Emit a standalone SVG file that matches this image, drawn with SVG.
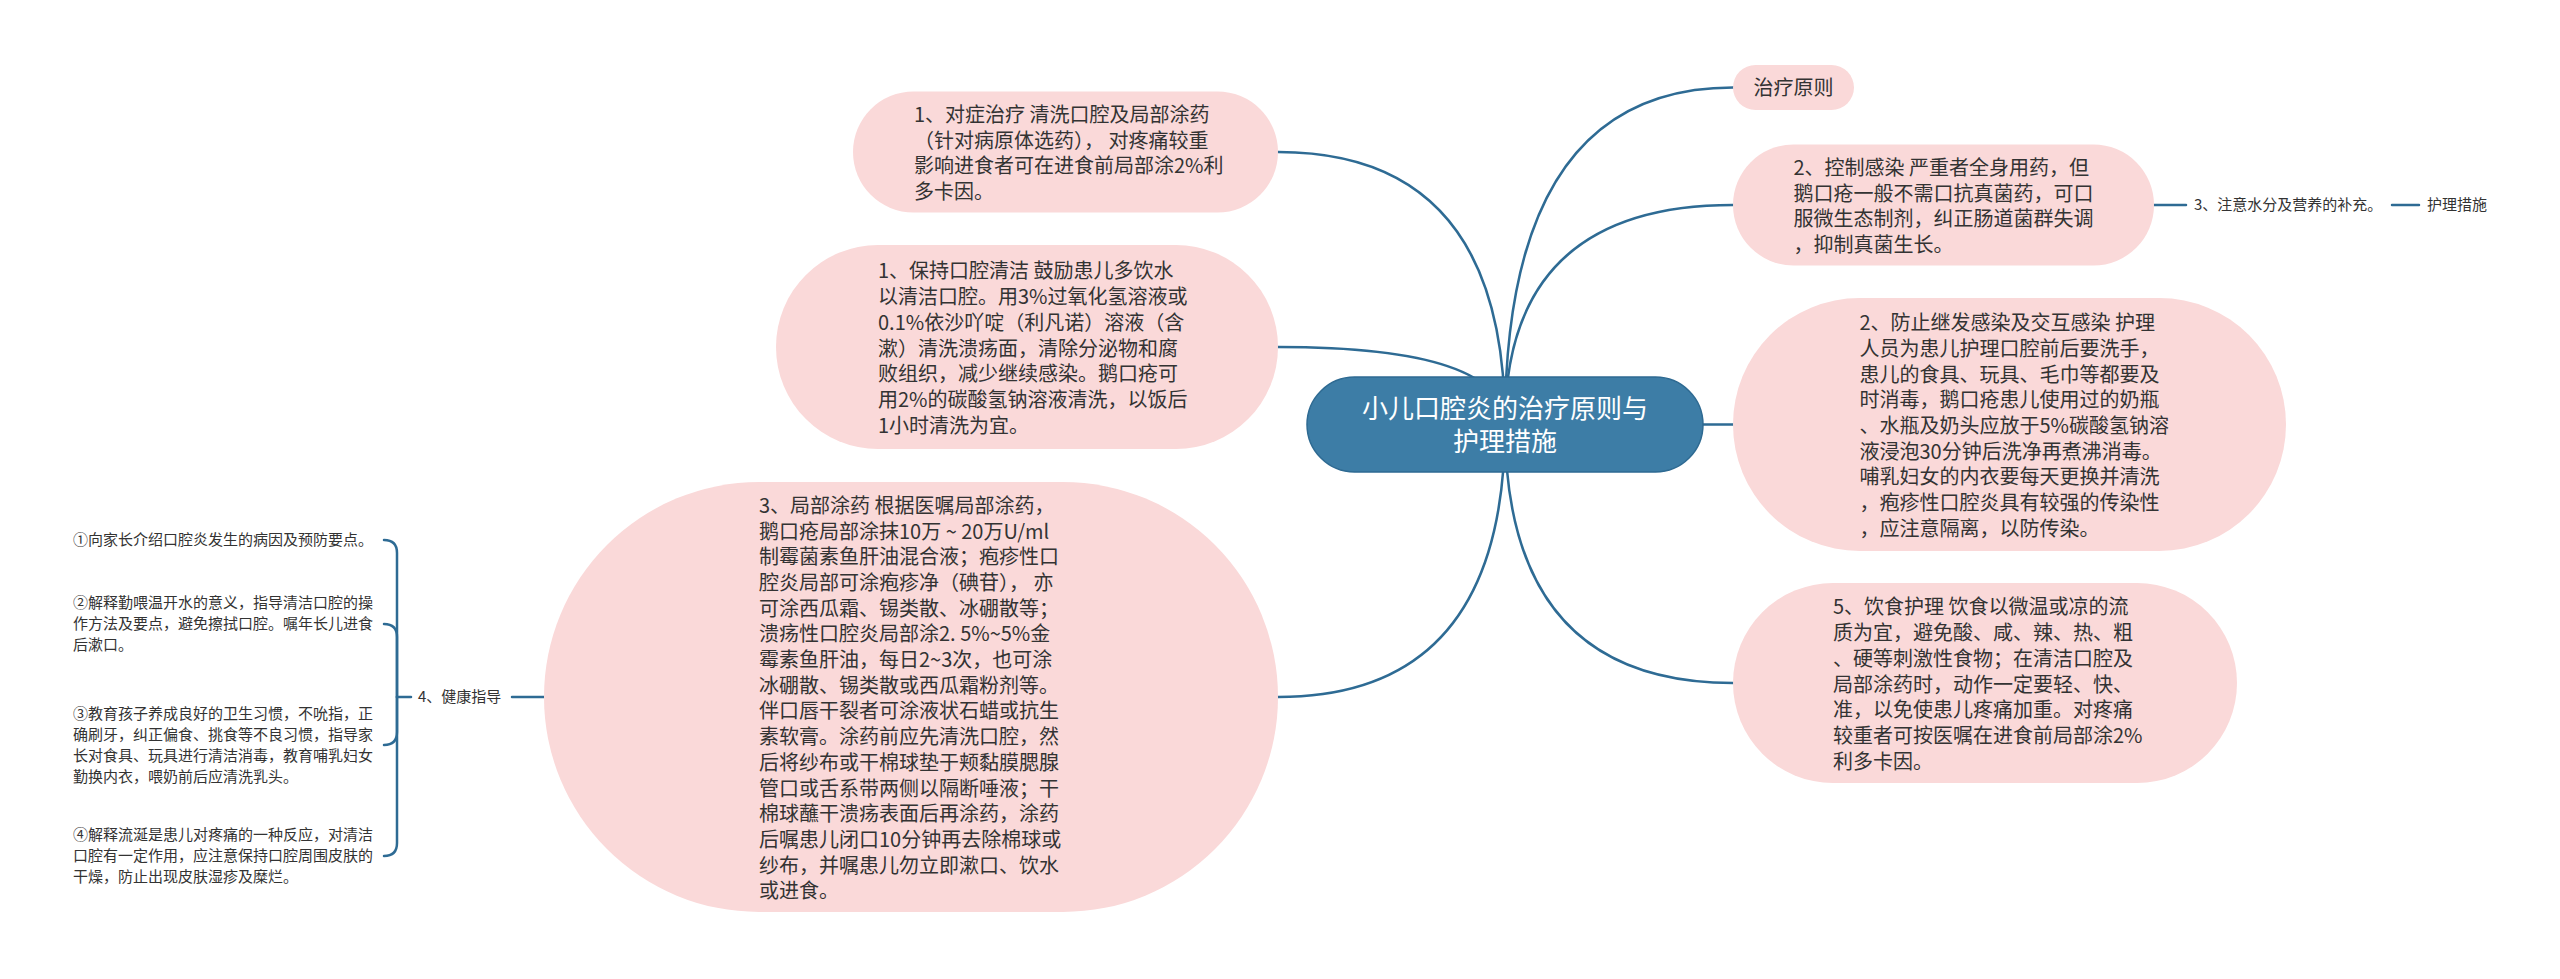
<svg xmlns="http://www.w3.org/2000/svg" width="2560" height="979" viewBox="0 0 2560 979">
<style>
text{font-family:"Noto Sans CJK SC","Noto Sans",sans-serif;fill:#333333;}
.t{font-size:20px;}
.s{font-size:15px;}
.pill{fill:#fad9d9;}
.root{fill:#3d7da6;stroke:#2e6a92;stroke-width:1.5;}
.rt{font-size:26px;fill:#ffffff;text-anchor:middle;}
.c{fill:none;stroke:#2e6b94;stroke-width:2.5;stroke-linecap:round;}
</style>
<rect width="2560" height="979" fill="#ffffff"/>
<g id="connectors">
<path class="c" d="M1505,424.5 Q1505,152 1278,152"/>
<path class="c" d="M1505,424.5 Q1505,347 1278,347"/>
<path class="c" d="M1505,424.5 Q1505,697 1278,697"/>
<path class="c" d="M1505,424.5 Q1505,87.5 1733,87.5"/>
<path class="c" d="M1505,424.5 Q1505,205 1733,205"/>
<path class="c" d="M1505,424.5 L1733,424.5"/>
<path class="c" d="M1505,424.5 Q1505,683 1733,683"/>
<path class="c" d="M2154,205 L2186,205"/>
<path class="c" d="M2392,205 L2419,205"/>
<path class="c" d="M544,697 L512,697"/>
<path class="c" d="M411,697 L397,697"/>
<path class="c" d="M397,697 L397,553 Q397,540 384,540"/>
<path class="c" d="M397,697 L397,637 Q397,624 384,624"/>
<path class="c" d="M397,697 L397,732 Q397,745 384,745"/>
<path class="c" d="M397,697 L397,843 Q397,856 384,856"/>
</g>
<g id="root">
<rect class="root" x="1307" y="377" width="396" height="95" rx="47.5"/>
<text class="rt" x="1505" y="418">小儿口腔炎的治疗原则与</text>
<text class="rt" x="1505" y="451">护理措施</text>
</g>
<g id="n-duizheng">
<rect class="pill" x="853" y="91.5" width="425" height="121" rx="60.5"/>
<text class="t" x="914"><tspan x="914" y="122">1、对症治疗 清洗口腔及局部涂药</tspan><tspan x="914" y="147.7">（针对病原体选药）， 对疼痛较重</tspan><tspan x="914" y="173.3">影响进食者可在进食前局部涂2%利</tspan><tspan x="914" y="199">多卡因。</tspan></text>
</g>
<g id="n-baochi">
<rect class="pill" x="776" y="245" width="502" height="204" rx="102"/>
<text class="t"><tspan x="878" y="278.4">1、保持口腔清洁 鼓励患儿多饮水</tspan><tspan x="878" y="304.1">以清洁口腔。用3%过氧化氢溶液或</tspan><tspan x="878" y="329.8">0.1%依沙吖啶（利凡诺）溶液（含</tspan><tspan x="878" y="355.5">漱）清洗溃疡面，清除分泌物和腐</tspan><tspan x="878" y="381.2">败组织，减少继续感染。鹅口疮可</tspan><tspan x="878" y="406.9">用2%的碳酸氢钠溶液清洗，以饭后</tspan><tspan x="878" y="432.6">1小时清洗为宜。</tspan></text>
</g>
<g id="n-jubu">
<rect class="pill" x="544" y="482" width="734" height="430" rx="215"/>
<text class="t"><tspan x="759" y="512.8">3、局部涂药 根据医嘱局部涂药，</tspan><tspan x="759" y="538.5">鹅口疮局部涂抹10万 ~ 20万U/ml</tspan><tspan x="759" y="564.2">制霉菌素鱼肝油混合液；疱疹性口</tspan><tspan x="759" y="589.9">腔炎局部可涂疱疹净（碘苷）， 亦</tspan><tspan x="759" y="615.6">可涂西瓜霜、锡类散、冰硼散等；</tspan><tspan x="759" y="641.3">溃疡性口腔炎局部涂2. 5%~5%金</tspan><tspan x="759" y="667">霉素鱼肝油，每日2~3次，也可涂</tspan><tspan x="759" y="692.7">冰硼散、锡类散或西瓜霜粉剂等。</tspan><tspan x="759" y="718.4">伴口唇干裂者可涂液状石蜡或抗生</tspan><tspan x="759" y="744.1">素软膏。涂药前应先清洗口腔，然</tspan><tspan x="759" y="769.8">后将纱布或干棉球垫于颊黏膜腮腺</tspan><tspan x="759" y="795.5">管口或舌系带两侧以隔断唾液；干</tspan><tspan x="759" y="821.2">棉球蘸干溃疡表面后再涂药，涂药</tspan><tspan x="759" y="846.9">后嘱患儿闭口10分钟再去除棉球或</tspan><tspan x="759" y="872.6">纱布，并嘱患儿勿立即漱口、饮水</tspan><tspan x="759" y="898.3">或进食。</tspan></text>
</g>
<g id="n-zhiliao">
<rect class="pill" x="1733" y="65" width="121" height="45" rx="22.5"/>
<text class="t" x="1793.5" y="95" text-anchor="middle">治疗原则</text>
</g>
<g id="n-kongzhi">
<rect class="pill" x="1733" y="144.5" width="421" height="121" rx="60.5"/>
<text class="t"><tspan x="1793.5" y="175">2、控制感染 严重者全身用药，但</tspan><tspan x="1793.5" y="200.7">鹅口疮一般不需口抗真菌药，可口</tspan><tspan x="1793.5" y="226.3">服微生态制剂，纠正肠道菌群失调</tspan><tspan x="1793.5" y="252">，抑制真菌生长。</tspan></text>
</g>
<g id="n-shuifen">
<text class="s" x="2194" y="210">3、注意水分及营养的补充。</text>
</g>
<g id="n-huli">
<text class="s" x="2427" y="210">护理措施</text>
</g>
<g id="n-fangzhi">
<rect class="pill" x="1733" y="298" width="553" height="253" rx="126.5"/>
<text class="t"><tspan x="1859.5" y="330.2">2、防止继发感染及交互感染 护理</tspan><tspan x="1859.5" y="355.9">人员为患儿护理口腔前后要洗手，</tspan><tspan x="1859.5" y="381.6">患儿的食具、玩具、毛巾等都要及</tspan><tspan x="1859.5" y="407.3">时消毒，鹅口疮患儿使用过的奶瓶</tspan><tspan x="1859.5" y="433">、水瓶及奶头应放于5%碳酸氢钠溶</tspan><tspan x="1859.5" y="458.7">液浸泡30分钟后洗净再煮沸消毒。</tspan><tspan x="1859.5" y="484.4">哺乳妇女的内衣要每天更换并清洗</tspan><tspan x="1859.5" y="510.1">，疱疹性口腔炎具有较强的传染性</tspan><tspan x="1859.5" y="535.8">，应注意隔离，以防传染。</tspan></text>
</g>
<g id="n-yinshi">
<rect class="pill" x="1733" y="583" width="504" height="200" rx="100"/>
<text class="t"><tspan x="1833" y="614.4">5、饮食护理 饮食以微温或凉的流</tspan><tspan x="1833" y="640.1">质为宜，避免酸、咸、辣、热、粗</tspan><tspan x="1833" y="665.8">、硬等刺激性食物；在清洁口腔及</tspan><tspan x="1833" y="691.5">局部涂药时，动作一定要轻、快、</tspan><tspan x="1833" y="717.2">准，以免使患儿疼痛加重。对疼痛</tspan><tspan x="1833" y="742.9">较重者可按医嘱在进食前局部涂2%</tspan><tspan x="1833" y="768.6">利多卡因。</tspan></text>
</g>
<g id="n-jiankang">
<text class="s" x="418" y="702">4、健康指导</text>
</g>
<g id="n-h1">
<text class="s" x="73" y="545">①向家长介绍口腔炎发生的病因及预防要点。</text>
</g>
<g id="n-h2">
<text class="s"><tspan x="73" y="608">②解释勤喂温开水的意义，指导清洁口腔的操</tspan><tspan x="73" y="629">作方法及要点，避免擦拭口腔。嘱年长儿进食</tspan><tspan x="73" y="650">后漱口。</tspan></text>
</g>
<g id="n-h3">
<text class="s"><tspan x="73" y="719">③教育孩子养成良好的卫生习惯，不吮指，正</tspan><tspan x="73" y="740">确刷牙，纠正偏食、挑食等不良习惯，指导家</tspan><tspan x="73" y="761">长对食具、玩具进行清洁消毒，教育哺乳妇女</tspan><tspan x="73" y="782">勤换内衣，喂奶前后应清洗乳头。</tspan></text>
</g>
<g id="n-h4">
<text class="s"><tspan x="73" y="840">④解释流涎是患儿对疼痛的一种反应，对清洁</tspan><tspan x="73" y="861">口腔有一定作用，应注意保持口腔周围皮肤的</tspan><tspan x="73" y="882">干燥，防止出现皮肤湿疹及糜烂。</tspan></text>
</g>
</svg>
